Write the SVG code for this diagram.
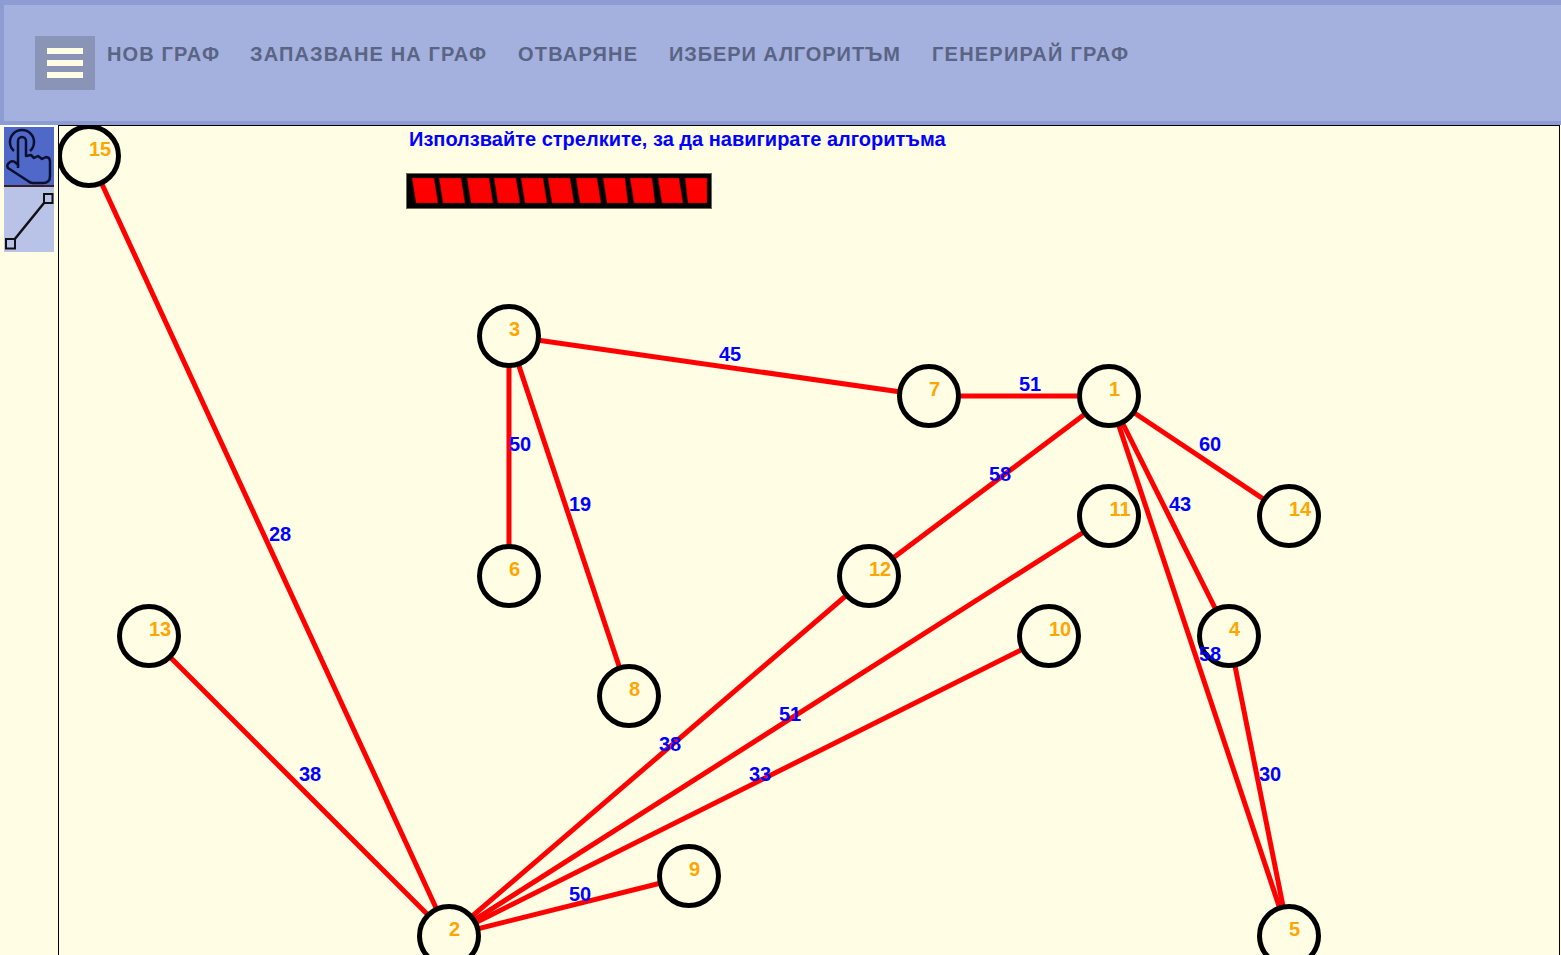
<svg xmlns="http://www.w3.org/2000/svg" width="1561" height="955" viewBox="0 0 1561 955">
<style>
text{font-family:"Liberation Sans",Arial,sans-serif;font-weight:bold}
.m{font-size:20px;fill:#5a6485}
.e{stroke:#f00;stroke-width:5;fill:none}
.n circle{fill:#fffde3;stroke:#000;stroke-width:5}
.n text{font-size:20px;fill:#ffa500;text-anchor:middle}
.w{font-size:20px;fill:#00f;text-anchor:middle}
.s{fill:#f00;stroke:#8b0000;stroke-width:.5}
</style>
<defs><clipPath id="cv"><rect x="59" y="126" width="1500" height="829"/></clipPath></defs>
<rect width="1561" height="955" fill="#fffde3"/>
<g id="header">
<rect width="1561" height="125" fill="#8d9dd3"/>
<rect x="4" y="5" width="1557" height="116" fill="#a4b0dd"/>
<rect x="35" y="36" width="60" height="54" fill="#8a94b6"/>
<rect x="47" y="48" width="36" height="6" fill="#fffde3"/>
<rect x="47" y="60" width="36" height="6" fill="#fffde3"/>
<rect x="47" y="72" width="36" height="6" fill="#fffde3"/>
<text class="m" x="107" y="61" textLength="112">НОВ ГРАФ</text>
<text class="m" x="250" y="61" textLength="236">ЗАПАЗВАНЕ НА ГРАФ</text>
<text class="m" x="518" y="61" textLength="119">ОТВАРЯНЕ</text>
<text class="m" x="669" y="61" textLength="231">ИЗБЕРИ АЛГОРИТЪМ</text>
<text class="m" x="932" y="61" textLength="196">ГЕНЕРИРАЙ ГРАФ</text>
</g>
<g id="canvas-border">
<rect x="58.500" y="125.500" width="1501" height="840" fill="none" stroke="#000" stroke-width="1"/>
</g>
<g id="tools">
<rect x="0" y="125" width="58" height="2" fill="#fff"/>
<rect x="4" y="127" width="50" height="58" fill="#5068c8"/>
<rect x="4" y="185" width="50" height="2" fill="#3a2020"/>
<rect x="4" y="187" width="50" height="65" fill="#b9c3e8"/>
<path d="M18 168V141a4 4 0 0 1 8 0V156l5-1 3 3 4-2 4 3 4-2 3 1 1 3V176q0 7-7 7H33q-3 0-5-2L8 168q-2-3 2-6 3-2 6 1l3 3" fill="none" stroke="#0b1030" stroke-width="2.500" stroke-linejoin="round"/>
<path d="M14 151a12 12 0 1 1 16 0" fill="none" stroke="#0b1030" stroke-width="2.500"/>
<path d="M14 240L44 203" stroke="#111" stroke-width="2.500" fill="none"/>
<rect x="44" y="194" width="8.500" height="9" fill="#b9c3e8" stroke="#111" stroke-width="2"/>
<rect x="6" y="239" width="9" height="9.500" fill="#b9c3e8" stroke="#111" stroke-width="2"/>
</g>
<g id="instruction">
<text x="409" y="146" font-size="20" fill="#00f">Използвайте стрелките, за да навигирате алгоритъма</text>
<rect x="406.500" y="173.500" width="305" height="35" fill="#000" stroke="#6b6b55" stroke-width="1"/>
<path class="s" d="M412 178h22l4 25h-22zM439 178h22l4 25h-22zM467 178h22l4 25h-22zM494 178h22l4 25h-22zM521 178h22l4 25h-22zM548 178h22l4 25h-22zM576 178h21l4 25h-21zM603 178h22l3 25h-21zM630 178h22l3 25h-21zM658 178h21l4 25h-21zM685 178h22v25h-19z"/>
</g>
<g id="connectors">
<path class="e" d="M89 156L449 936"/>
<path class="e" d="M509 336L929 396"/>
<path class="e" d="M929 396H1109"/>
<path class="e" d="M509 336V576"/>
<path class="e" d="M509 336L629 696"/>
<path class="e" d="M1109 396L869 576"/>
<path class="e" d="M1109 396L1289 516"/>
<path class="e" d="M1109 396L1229 636"/>
<path class="e" d="M1109 396L1289 936"/>
<path class="e" d="M1229 636L1289 936"/>
<path class="e" d="M869 576L449 936"/>
<path class="e" d="M1109 516L449 936"/>
<path class="e" d="M1049 636L449 936"/>
<path class="e" d="M149 636L449 936"/>
<path class="e" d="M689 876L449 936"/>
</g>
<g id="node-15" class="n" clip-path="url(#cv)"><circle cx="89" cy="156" r="29.500"/><text x="100" y="156">15</text></g>
<g id="node-3" class="n"><circle cx="509" cy="336" r="29.500"/><text x="514.500" y="336">3</text></g>
<g id="node-7" class="n"><circle cx="929" cy="396" r="29.500"/><text x="934.500" y="396">7</text></g>
<g id="node-1" class="n"><circle cx="1109" cy="396" r="29.500"/><text x="1114.500" y="396">1</text></g>
<g id="node-14" class="n"><circle cx="1289" cy="516" r="29.500"/><text x="1300" y="516">14</text></g>
<g id="node-11" class="n"><circle cx="1109" cy="516" r="29.500"/><text x="1120" y="516">11</text></g>
<g id="node-6" class="n"><circle cx="509" cy="576" r="29.500"/><text x="514.500" y="576">6</text></g>
<g id="node-12" class="n"><circle cx="869" cy="576" r="29.500"/><text x="880" y="576">12</text></g>
<g id="node-13" class="n"><circle cx="149" cy="636" r="29.500"/><text x="160" y="636">13</text></g>
<g id="node-10" class="n"><circle cx="1049" cy="636" r="29.500"/><text x="1060" y="636">10</text></g>
<g id="node-4" class="n"><circle cx="1229" cy="636" r="29.500"/><text x="1234.500" y="636">4</text></g>
<g id="node-8" class="n"><circle cx="629" cy="696" r="29.500"/><text x="634.500" y="696">8</text></g>
<g id="node-9" class="n"><circle cx="689" cy="876" r="29.500"/><text x="694.500" y="876">9</text></g>
<g id="node-2" class="n"><circle cx="449" cy="936" r="29.500"/><text x="454.500" y="936">2</text></g>
<g id="node-5" class="n"><circle cx="1289" cy="936" r="29.500"/><text x="1294.500" y="936">5</text></g>
<g id="edge-labels">
<text class="w" x="280" y="541">28</text>
<text class="w" x="730" y="361">45</text>
<text class="w" x="1030" y="391">51</text>
<text class="w" x="520" y="451">50</text>
<text class="w" x="580" y="511">19</text>
<text class="w" x="1000" y="481">58</text>
<text class="w" x="1210" y="451">60</text>
<text class="w" x="1180" y="511">43</text>
<text class="w" x="1210" y="661">58</text>
<text class="w" x="1270" y="781">30</text>
<text class="w" x="670" y="751">38</text>
<text class="w" x="790" y="721">51</text>
<text class="w" x="760" y="781">33</text>
<text class="w" x="310" y="781">38</text>
<text class="w" x="580" y="901">50</text>
</g>
</svg>
